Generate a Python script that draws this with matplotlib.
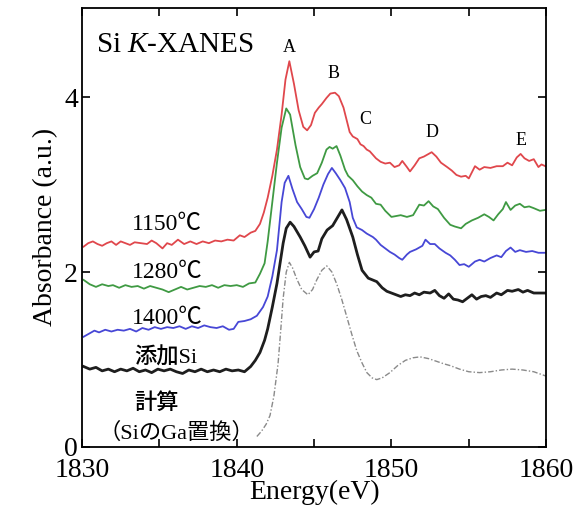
import matplotlib.pyplot as plt
from matplotlib.ticker import MultipleLocator

plt.rcParams['font.family'] = ['Liberation Serif', 'Noto Sans CJK JP']
plt.rcParams['mathtext.fontset'] = 'custom'
plt.rcParams['mathtext.rm'] = 'Liberation Serif'
plt.rcParams['mathtext.it'] = 'Liberation Serif:italic'

# Si K-XANES spectra (energy in eV, absorbance in a.u.)
e_1150 = [1830.1, 1830.4, 1830.7, 1831.0, 1831.3, 1831.6, 1831.9, 1832.2, 1832.5, 1832.8,
          1833.1, 1833.4, 1833.8, 1834.2, 1834.5, 1834.8, 1835.2, 1835.5, 1835.8, 1836.2,
          1836.6, 1837.0, 1837.4, 1837.8, 1838.2, 1838.6, 1839.0, 1839.4, 1839.8, 1840.2,
          1840.5, 1840.9, 1841.2, 1841.5, 1841.75, 1842.0, 1842.3, 1842.6, 1842.9, 1843.15,
          1843.4, 1843.7, 1844.0, 1844.3, 1844.55, 1844.8, 1845.05, 1845.3, 1845.5, 1845.8,
          1846.05, 1846.35, 1846.6, 1846.9, 1847.1, 1847.3, 1847.5, 1847.8, 1848.0, 1848.2,
          1848.4, 1848.6, 1848.8, 1849.0, 1849.3, 1849.6, 1849.9, 1850.2, 1850.5, 1850.7,
          1851.0, 1851.2, 1851.5, 1851.8, 1852.1, 1852.4, 1852.6, 1852.9, 1853.2, 1853.6,
          1853.9, 1854.2, 1854.5, 1854.8, 1855.0, 1855.4, 1855.7, 1856.0, 1856.4, 1856.8,
          1857.2, 1857.5, 1857.8, 1858.1, 1858.35, 1858.6, 1858.9, 1859.2, 1859.5, 1859.7,
          1859.95]
a_1150 = [2.29, 2.33, 2.35, 2.32, 2.30, 2.33, 2.35, 2.31, 2.35, 2.33,
          2.31, 2.34, 2.33, 2.32, 2.36, 2.33, 2.27, 2.33, 2.31, 2.37,
          2.32, 2.35, 2.32, 2.35, 2.33, 2.36, 2.35, 2.37, 2.36, 2.42,
          2.40, 2.45, 2.47, 2.55, 2.68, 2.85, 3.10, 3.40, 3.80, 4.20,
          4.41, 4.15, 3.85, 3.66, 3.62, 3.68, 3.82, 3.88, 3.92, 3.99,
          4.04, 4.05, 4.01, 3.88, 3.74, 3.60, 3.55, 3.52, 3.46, 3.44,
          3.40, 3.38, 3.34, 3.30, 3.26, 3.24, 3.25, 3.20, 3.22, 3.27,
          3.20, 3.15, 3.22, 3.30, 3.32, 3.35, 3.37, 3.32, 3.25, 3.20,
          3.16, 3.11, 3.09, 3.10, 3.07, 3.21, 3.17, 3.20, 3.19, 3.21,
          3.21, 3.25, 3.22, 3.31, 3.35, 3.30, 3.27, 3.29, 3.20, 3.23,
          3.21]

e_1280 = [1830.1, 1830.5, 1830.9, 1831.3, 1831.7, 1832.0, 1832.4, 1832.8, 1833.2, 1833.6,
          1834.0, 1834.4, 1834.8, 1835.2, 1835.6, 1836.0, 1836.4, 1836.8, 1837.2, 1837.6,
          1838.0, 1838.4, 1838.8, 1839.2, 1839.6, 1840.0, 1840.4, 1840.8, 1841.2, 1841.5,
          1841.8, 1842.0, 1842.3, 1842.6, 1842.9, 1843.2, 1843.45, 1843.8, 1844.1, 1844.4,
          1844.6, 1844.9, 1845.2, 1845.5, 1845.8, 1846.0, 1846.2, 1846.45, 1846.7, 1847.0,
          1847.2, 1847.5, 1847.8, 1848.1, 1848.4, 1848.7, 1849.0, 1849.3, 1849.6, 1850.0,
          1850.3, 1850.6, 1851.0, 1851.4, 1851.8, 1852.1, 1852.4, 1852.7, 1853.0, 1853.4,
          1853.8, 1854.1, 1854.5, 1854.8, 1855.2, 1855.6, 1856.0, 1856.3, 1856.6, 1856.9,
          1857.2, 1857.4, 1857.7, 1858.0, 1858.3, 1858.6, 1858.9, 1859.2, 1859.6, 1859.95]
a_1280 = [1.91, 1.86, 1.83, 1.86, 1.84, 1.85, 1.82, 1.85, 1.83, 1.84,
          1.81, 1.84, 1.82, 1.80, 1.77, 1.80, 1.83, 1.80, 1.82, 1.84,
          1.83, 1.85, 1.82, 1.85, 1.84, 1.85, 1.83, 1.87, 1.88, 1.98,
          2.10, 2.35, 2.80, 3.25, 3.65, 3.87, 3.80, 3.45, 3.20, 3.07,
          3.06, 3.10, 3.13, 3.25, 3.40, 3.43, 3.41, 3.44, 3.33, 3.17,
          3.10, 3.05, 2.98, 2.92, 2.88, 2.85, 2.78, 2.77, 2.70, 2.63,
          2.64, 2.65, 2.63, 2.65, 2.77, 2.76, 2.81, 2.75, 2.72, 2.62,
          2.54, 2.52, 2.50, 2.55, 2.59, 2.62, 2.66, 2.63, 2.59, 2.66,
          2.72, 2.80, 2.71, 2.76, 2.78, 2.74, 2.75, 2.73, 2.70, 2.71]

e_1400 = [1830.1, 1830.4, 1830.8, 1831.1, 1831.5, 1831.9, 1832.3, 1832.7, 1833.1, 1833.5,
          1833.9, 1834.3, 1834.7, 1835.1, 1835.5, 1835.9, 1836.3, 1836.7, 1837.1, 1837.5,
          1837.9, 1838.3, 1838.7, 1839.1, 1839.5, 1839.8, 1840.1, 1840.5, 1840.9, 1841.3,
          1841.7, 1842.0, 1842.3, 1842.6, 1842.9, 1843.1, 1843.34, 1843.6, 1843.9, 1844.2,
          1844.5, 1844.7, 1845.0, 1845.3, 1845.6, 1845.9, 1846.15, 1846.4, 1846.7, 1847.0,
          1847.3, 1847.5, 1847.76, 1848.1, 1848.4, 1848.8, 1849.0, 1849.3, 1849.6, 1849.9,
          1850.2, 1850.5, 1850.7, 1851.0, 1851.2, 1851.6, 1852.0, 1852.2, 1852.5, 1852.8,
          1853.1, 1853.5, 1853.8, 1854.1, 1854.4, 1854.7, 1855.0, 1855.4, 1855.7, 1856.0,
          1856.4, 1856.8, 1857.1, 1857.4, 1857.7, 1858.0, 1858.3, 1858.7, 1859.1, 1859.5,
          1859.95]
a_1400 = [1.26, 1.29, 1.33, 1.31, 1.34, 1.32, 1.34, 1.33, 1.35, 1.32,
          1.36, 1.34, 1.37, 1.35, 1.37, 1.36, 1.38, 1.35, 1.38, 1.36,
          1.39, 1.37, 1.36, 1.38, 1.34, 1.35, 1.43, 1.44, 1.46, 1.50,
          1.60, 1.72, 1.95, 2.25, 2.80, 3.02, 3.10, 2.95, 2.80, 2.72,
          2.63, 2.62, 2.72, 2.85, 3.00, 3.12, 3.19, 3.13, 3.05, 2.96,
          2.80, 2.62, 2.51, 2.48, 2.44, 2.40, 2.37, 2.31, 2.27, 2.23,
          2.20, 2.16, 2.14, 2.20, 2.23, 2.26, 2.30, 2.37, 2.32, 2.32,
          2.27, 2.22, 2.19, 2.14, 2.08, 2.09, 2.06, 2.12, 2.14, 2.12,
          2.16, 2.19, 2.17, 2.24, 2.28, 2.23, 2.25, 2.23, 2.24, 2.22,
          2.22]

e_si = [1830.1, 1830.5, 1830.9, 1831.3, 1831.7, 1832.1, 1832.5, 1832.9, 1833.3, 1833.7,
        1834.1, 1834.5, 1834.9, 1835.3, 1835.7, 1836.1, 1836.5, 1836.9, 1837.3, 1837.7,
        1838.1, 1838.5, 1838.9, 1839.3, 1839.7, 1840.1, 1840.5, 1840.9, 1841.2, 1841.5,
        1841.8, 1842.0, 1842.3, 1842.6, 1843.0, 1843.2, 1843.45, 1843.7, 1844.1, 1844.4,
        1844.74, 1845.0, 1845.26, 1845.5, 1845.84, 1846.2, 1846.5, 1846.8, 1847.1, 1847.5,
        1847.8, 1848.1, 1848.5, 1849.05, 1849.4, 1849.7, 1850.0, 1850.3, 1850.6, 1850.9,
        1851.2, 1851.5, 1851.8, 1852.1, 1852.5, 1852.8, 1853.1, 1853.4, 1853.7, 1854.0,
        1854.3, 1854.6, 1854.9, 1855.2, 1855.5, 1855.8, 1856.1, 1856.4, 1856.8, 1857.1,
        1857.5, 1857.8, 1858.2, 1858.5, 1858.8, 1859.2, 1859.6, 1859.95]
a_si = [0.92, 0.89, 0.91, 0.87, 0.89, 0.86, 0.89, 0.87, 0.90, 0.86,
        0.88, 0.85, 0.89, 0.87, 0.89, 0.86, 0.84, 0.88, 0.86, 0.89,
        0.86, 0.88, 0.86, 0.89, 0.87, 0.88, 0.86, 0.92, 0.99, 1.08,
        1.22, 1.35, 1.60, 1.87, 2.33, 2.50, 2.57, 2.52, 2.40, 2.30,
        2.17, 2.23, 2.24, 2.38, 2.48, 2.53, 2.62, 2.71, 2.60, 2.40,
        2.20, 2.02, 1.93, 1.89, 1.82, 1.78, 1.76, 1.74, 1.72, 1.74,
        1.73, 1.76, 1.74, 1.77, 1.76, 1.79, 1.73, 1.70, 1.75, 1.69,
        1.68, 1.66, 1.70, 1.74, 1.69, 1.72, 1.73, 1.71, 1.76, 1.74,
        1.79, 1.78, 1.80, 1.77, 1.79, 1.76, 1.76, 1.76]

e_calc = [1841.3, 1841.6, 1841.9, 1842.15, 1842.4, 1842.67, 1842.85, 1843.0, 1843.2, 1843.4,
          1843.6, 1843.88, 1844.2, 1844.6, 1844.9, 1845.17, 1845.5, 1845.82, 1846.15, 1846.47,
          1846.8, 1847.11, 1847.45, 1847.76, 1848.1, 1848.41, 1848.75, 1849.05, 1849.4, 1849.9,
          1850.4, 1850.9, 1851.4, 1851.85, 1852.4, 1852.9, 1853.4, 1853.8, 1854.4, 1855.0,
          1855.7, 1856.4, 1857.1, 1857.8, 1858.5, 1859.2, 1860.0]
a_calc = [0.12, 0.18, 0.26, 0.36, 0.58, 0.95, 1.35, 1.70, 2.00, 2.11,
          2.05, 1.92, 1.80, 1.74, 1.80, 1.91, 2.02, 2.07, 2.00, 1.86,
          1.68, 1.49, 1.28, 1.10, 0.96, 0.85, 0.79, 0.77, 0.79, 0.85,
          0.93, 0.99, 1.02, 1.03, 1.01, 0.98, 0.95, 0.93, 0.89, 0.86,
          0.85, 0.86, 0.88, 0.89, 0.88, 0.86, 0.81]

peak_names = ['A', 'B', 'C', 'D', 'E']
peak_e = [1843.4, 1846.25, 1848.3, 1852.6, 1858.36]
peak_a = [4.57, 4.27, 3.74, 3.59, 3.50]

fig = plt.figure(figsize=(5.86, 5.24), dpi=100)
ax = fig.add_axes([0.14, 0.147, 0.792, 0.838])

ax.plot(e_1150, a_1150, color='#e0474c', lw=1.3)
ax.plot(e_1280, a_1280, color='#3f9a43', lw=1.3)
ax.plot(e_1400, a_1400, color='#4747d6', lw=1.3)
ax.plot(e_si, a_si, color='#1e1e1e', lw=2.0)
ax.plot(e_calc, a_calc, color='#8a8a8a', lw=1.0, ls=(0, (4, 1.5, 1, 1.5)))

# peak letters
for name, xe, ya in zip(peak_names, peak_e, peak_a):
    ax.text(xe, ya, name, fontsize=13, ha='center', va='center')

ax.text(1830.9, 4.59, 'Si $\\mathit{K}$-XANES', fontsize=21, va='center', ha='left')

# sample labels
ax.text(1835.5, 2.54, '1150℃', fontsize=17, ha='center', va='center')
ax.text(1835.5, 2.00, '1280℃', fontsize=17, ha='center', va='center')
ax.text(1835.5, 1.47, '1400℃', fontsize=17, ha='center', va='center')
ax.text(1835.4, 1.02, '添加Si', fontsize=16, ha='center', va='center', fontweight='medium')
ax.text(1834.8, 0.50, '計算', fontsize=16, ha='center', va='center', fontweight='medium')
ax.text(1836.1, 0.16, '（SiのGa置換）', fontsize=16, ha='center', va='center')

ax.set_xlim(1830, 1860)
ax.set_ylim(0, 5.02)
ax.xaxis.set_major_locator(MultipleLocator(10))
ax.xaxis.set_minor_locator(MultipleLocator(5))
ax.set_yticks([0, 2, 4])
ax.tick_params(which='both', direction='in', top=True, right=True, length=6, width=1.2,
               labelsize=20)
ax.tick_params(axis='x', pad=8)
ax.tick_params(axis='y', pad=3)
for s in ax.spines.values():
    s.set_linewidth(1.3)

ax.set_xlabel('Energy(eV)', fontsize=20, labelpad=-2)
ax.set_ylabel('Absorbance (a.u.)', fontsize=20, labelpad=4)

fig.savefig('out.png', dpi=100)
